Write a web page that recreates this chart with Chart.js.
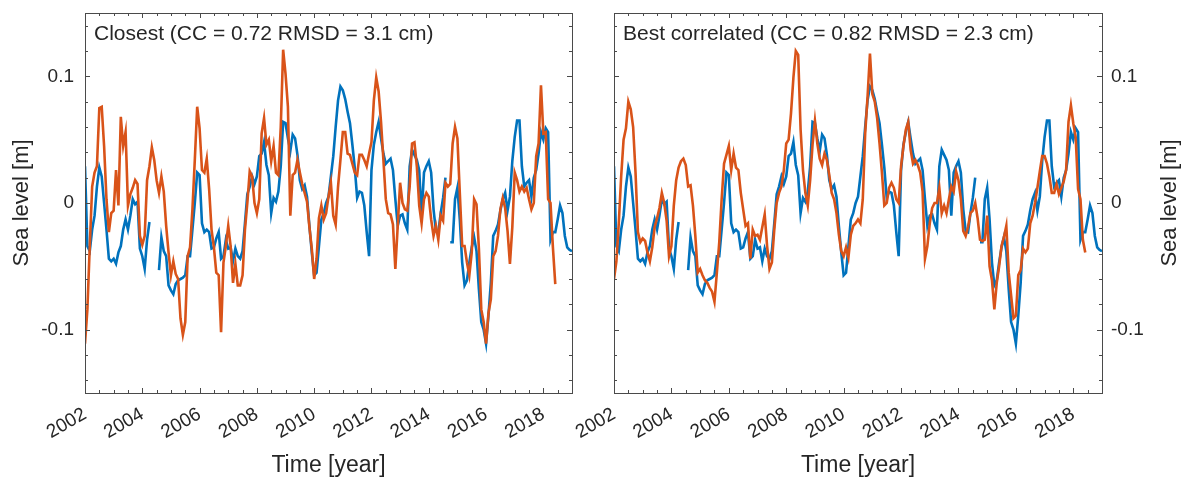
<!DOCTYPE html>
<html>
<head>
<meta charset="utf-8">
<title>Sea level comparison</title>
<script src="https://cdn.jsdelivr.net/npm/chart.js@4.4.1/dist/chart.umd.min.js"></script>
<style>
  html, body { margin: 0; padding: 0; background: #fff; }
  #wrap { position: relative; width: 1182px; height: 479px; overflow: hidden; }
  .panel { position: absolute; top: 0; height: 479px; }
  #panelLeft { left: 0; width: 600px; }
  #panelRight { left: 560px; width: 622px; }
</style>
</head>
<body>
<div id="wrap">
  <div class="panel" id="panelLeft"><canvas id="chartLeft"></canvas></div>
  <div class="panel" id="panelRight"><canvas id="chartRight"></canvas></div>
</div>
<script>
// monthly series, first value = Jan 2002
const START_YEAR = 2002;

// observed sea level [m] (null = missing month)
const observed = [
  0.029, -0.034, -0.038, -0.021, -0.010, 0.013, 0.028, 0.021, 0.000, -0.021, -0.044, -0.046,
  -0.044, -0.048, -0.039, -0.034, -0.021, -0.013, -0.021, -0.010, 0.003, -0.001, 0.001, -0.036,
  -0.042, -0.052, -0.029, -0.015, null, null, null, -0.053, -0.027, -0.038, -0.042, -0.065,
  -0.069, -0.072, -0.064, -0.061, -0.060, -0.059, -0.057, -0.042, -0.042, -0.021, 0.000, 0.024,
  0.022, -0.016, -0.023, -0.021, -0.023, -0.036, -0.035, -0.028, -0.023, -0.044, -0.042, -0.029,
  -0.036, -0.035, -0.046, -0.036, -0.042, -0.044, -0.038, -0.016, 0.007, 0.013, 0.021, 0.015,
  0.021, 0.037, 0.039, 0.048, 0.030, 0.022, -0.008, 0.004, 0.001, 0.009, 0.029, 0.064,
  0.063, 0.051, 0.041, 0.054, 0.051, 0.038, 0.018, 0.011, 0.014, 0.005, -0.018, -0.039,
  -0.057, -0.055, -0.034, -0.013, -0.008, 0.000, 0.005, 0.021, 0.037, 0.060, 0.081, 0.092,
  0.089, 0.082, 0.072, 0.063, 0.046, 0.028, 0.004, 0.009, 0.008, -0.002, -0.023, -0.042,
  0.026, 0.046, 0.056, 0.064, 0.051, 0.039, 0.031, 0.033, 0.035, 0.026, 0.003, -0.018,
  -0.010, -0.009, -0.016, -0.021, 0.029, 0.042, 0.038, 0.034, 0.026, -0.010, 0.024, 0.029,
  0.033, 0.024, -0.005, -0.022, -0.023, -0.008, 0.004, 0.020, null, -0.031, -0.031, 0.003,
  0.012, -0.013, -0.047, -0.065, -0.061, -0.047, -0.035, -0.027, -0.038, -0.068, -0.094, -0.100,
  -0.111, -0.089, -0.063, -0.026, -0.022, -0.017, -0.006, 0.003, 0.008, -0.006, 0.005, 0.033,
  0.052, 0.065, 0.065, 0.029, 0.013, 0.016, 0.018, 0.005, 0.020, 0.026, 0.039, 0.056,
  0.050, 0.059, 0.056, -0.029, -0.023, -0.023, -0.013, -0.002, -0.008, -0.026, -0.035, -0.037,
  -0.038
];

// closest model series [m]
const closest = [
  -0.111, -0.084, -0.034, 0.013, 0.024, 0.029, 0.075, 0.076, 0.045, 0.003, -0.023, -0.008,
  -0.006, 0.026, -0.002, 0.068, 0.045, 0.056, -0.002, 0.007, 0.012, 0.018, 0.015, -0.026,
  -0.033, -0.026, 0.018, 0.029, 0.044, 0.034, 0.018, 0.008, 0.021, 0.009, -0.018, -0.039,
  -0.057, -0.046, -0.056, -0.060, -0.091, -0.104, -0.094, -0.042, -0.035, -0.005, 0.034, 0.076,
  0.059, 0.026, 0.024, 0.035, 0.011, -0.021, -0.035, -0.055, -0.057, -0.102, -0.047, -0.034,
  -0.018, -0.034, -0.063, -0.048, -0.065, -0.065, -0.057, -0.021, 0.000, 0.025, 0.021, 0.000,
  -0.008, 0.003, 0.055, 0.067, 0.046, 0.050, 0.033, 0.045, 0.024, 0.022, 0.060, 0.121,
  0.102, 0.076, -0.010, 0.022, 0.024, 0.034, 0.024, 0.015, 0.008, 0.001, -0.019, -0.036,
  -0.060, -0.044, -0.012, -0.002, -0.013, -0.008, 0.005, 0.016, -0.010, -0.017, 0.013, 0.034,
  0.056, 0.056, 0.039, 0.038, 0.031, 0.024, 0.022, 0.038, 0.038, 0.034, 0.029, 0.039,
  0.048, 0.081, 0.099, 0.088, 0.064, 0.034, 0.003, -0.008, -0.009, -0.017, -0.052, -0.018,
  0.016, 0.000, -0.005, -0.006, 0.013, 0.047, 0.048, 0.029, -0.002, -0.016, 0.003, 0.008,
  0.005, -0.013, -0.026, -0.018, -0.029, -0.010, -0.014, 0.016, 0.013, 0.015, 0.047, 0.060,
  0.051, 0.008, -0.034, -0.034, -0.047, -0.057, -0.039, 0.003, -0.001, -0.036, -0.084, -0.094,
  -0.111, -0.087, -0.076, -0.042, -0.038, -0.026, -0.005, 0.004, -0.004, -0.022, -0.048, -0.019,
  0.024, 0.018, 0.009, 0.013, 0.009, 0.012, 0.003, -0.005, 0.000, 0.037, 0.047, 0.093,
  0.055, 0.056, 0.003, 0.000, -0.035, -0.064
];

// best correlated model series [m]
const bestCorrelated = [
  -0.060, -0.046, -0.016, 0.021, 0.050, 0.059, 0.080, 0.074, 0.060, 0.024, -0.023, -0.031,
  -0.028, -0.030, -0.039, -0.046, -0.035, -0.019, -0.012, -0.004, 0.008, 0.000, -0.014, -0.042,
  -0.034, -0.002, 0.018, 0.028, 0.033, 0.035, 0.030, 0.013, 0.014, -0.002, -0.026, -0.055,
  -0.052, -0.057, -0.061, -0.063, -0.067, -0.070, -0.078, -0.055, -0.031, 0.003, 0.031, 0.038,
  0.045, 0.026, 0.039, 0.028, 0.026, 0.008, -0.005, -0.018, -0.016, -0.044, -0.021, -0.026,
  -0.025, -0.029, -0.019, -0.009, -0.034, -0.052, -0.047, -0.021, 0.000, 0.008, 0.013, 0.026,
  0.047, 0.050, 0.071, 0.099, 0.120, 0.117, 0.058, 0.026, 0.008, -0.002, 0.018, 0.046,
  0.065, 0.047, 0.035, 0.030, 0.039, 0.034, 0.022, 0.008, 0.003, -0.008, -0.025, -0.038,
  -0.042, -0.035, -0.043, -0.025, -0.018, -0.016, -0.013, -0.016, 0.003, 0.055, 0.084, 0.118,
  0.086, 0.080, 0.067, 0.047, 0.024, -0.002, 0.000, 0.012, 0.016, 0.012, 0.003, 0.000,
  0.029, 0.045, 0.058, 0.064, 0.042, 0.031, 0.034, 0.030, 0.024, 0.009, -0.044, -0.034,
  -0.016, -0.004, 0.000, 0.000, 0.012, -0.008, -0.002, -0.008, 0.003, 0.013, 0.009, 0.025,
  0.018, 0.003, -0.022, -0.026, -0.019, -0.008, -0.006, 0.000, -0.012, -0.029, -0.030, -0.029,
  -0.010, -0.050, -0.061, -0.084, -0.063, -0.050, -0.034, -0.027, -0.018, -0.055, -0.073, -0.091,
  -0.089, -0.057, -0.053, -0.036, -0.039, -0.036, -0.016, -0.010, 0.000, 0.012, 0.025, 0.037,
  0.037, 0.031, 0.021, 0.008, 0.008, 0.015, 0.007, 0.012, 0.017, 0.026, 0.064, 0.077,
  0.063, 0.052, 0.011, 0.003, -0.029, -0.039
];

const YEAR_TICKS = [2002, 2004, 2006, 2008, 2010, 2012, 2014, 2016, 2018];
const LEVEL_TICKS = [-0.1, 0, 0.1];
const X_RANGE = [2002, 2019];
const Y_RANGE = [-0.15, 0.15];

const BLUE = "#0072BD";
const ORANGE = "#D95319";
const INK = "#262626";
const FONT = "'Liberation Sans', Arial, sans-serif";

const toPoints = (values) =>
  values.map((v, i) => ({ x: START_YEAR + i / 12, y: v }));

// box, inward tick marks (major + minor) and the caption inside the plot
const boxAndTicks = {
  id: "boxAndTicks",
  afterDraw(chart, args, opts) {
    const { ctx, chartArea: a } = chart;
    const xs = chart.scales.x;
    const ys = chart.scales.y;
    ctx.save();
    ctx.strokeStyle = "#4a4a4a";
    ctx.lineWidth = 1;
    ctx.strokeRect(a.left + 0.5, a.top + 0.5, a.right - a.left, a.bottom - a.top);

    ctx.beginPath();
    for (let v = X_RANGE[0]; v <= X_RANGE[1] + 1e-9; v += 0.5) {
      const px = Math.round(xs.getPixelForValue(v)) + 0.5;
      const len = YEAR_TICKS.includes(v) ? 5 : 3;
      ctx.moveTo(px, a.bottom);
      ctx.lineTo(px, a.bottom - len);
      ctx.moveTo(px, a.top);
      ctx.lineTo(px, a.top + len);
    }
    for (let k = -7; k <= 7; k++) {
      const v = k * 0.02;
      const py = Math.round(ys.getPixelForValue(v)) + 0.5;
      const len = k % 5 === 0 ? 5 : 3;
      ctx.moveTo(a.left, py);
      ctx.lineTo(a.left + len, py);
      ctx.moveTo(a.right, py);
      ctx.lineTo(a.right - len, py);
    }
    ctx.stroke();

    ctx.fillStyle = INK;
    ctx.font = `21px ${FONT}`;
    ctx.textAlign = "left";
    ctx.textBaseline = "alphabetic";
    ctx.fillText(opts.caption, a.left + 9, a.top + 27);

    if (opts.sideTitle) {
      ctx.translate(ys.right - 12, (a.top + a.bottom) / 2);
      ctx.rotate(-Math.PI / 2);
      ctx.textAlign = "center";
      ctx.textBaseline = "middle";
      ctx.font = `22px ${FONT}`;
      ctx.fillText(opts.sideTitle, 0, 0);
    }
    ctx.restore();
  },
};

const makeConfig = (model, side, caption) => ({
  type: "line",
  data: {
    datasets: [
      {
        label: "Observed",
        data: toPoints(observed),
        borderColor: BLUE,
        borderWidth: 2.6,
        pointRadius: 0,
        spanGaps: false,
        order: 2,
      },
      {
        label: "Model",
        data: toPoints(model),
        borderColor: ORANGE,
        borderWidth: 2.6,
        pointRadius: 0,
        order: 1,
      },
    ],
  },
  options: {
    responsive: true,
    maintainAspectRatio: false,
    animation: false,
    layout: {
      padding: side === "left" ? { top: 13, right: 28, left: 0, bottom: 0 } : { top: 13, right: 0, left: 54, bottom: 0 },
    },
    plugins: {
      legend: { display: false },
      tooltip: { enabled: false },
      boxAndTicks: {
        caption,
        sideTitle: side === "right" ? "Sea level [m]" : null,
      },
    },
    scales: {
      x: {
        type: "linear",
        min: X_RANGE[0],
        max: X_RANGE[1],
        grid: { display: false, drawTicks: false },
        border: { display: false },
        afterBuildTicks: (axis) => {
          axis.ticks = YEAR_TICKS.map((v) => ({ value: v }));
        },
        afterFit: (axis) => {
          axis.height = 86;
          axis.paddingLeft = 0;
          axis.paddingRight = 0;
        },
        ticks: {
          autoSkip: false,
          minRotation: 30,
          maxRotation: 30,
          padding: 10,
          color: INK,
          font: { family: FONT, size: 19 },
          callback: (v) => String(v),
        },
        title: {
          display: true,
          text: "Time [year]",
          color: INK,
          font: { family: FONT, size: 23 },
          padding: { top: 0, bottom: 0 },
        },
      },
      y: {
        position: side,
        min: Y_RANGE[0],
        max: Y_RANGE[1],
        grid: { display: false, drawTicks: false },
        border: { display: false },
        afterBuildTicks: (axis) => {
          axis.ticks = LEVEL_TICKS.map((v) => ({ value: v }));
        },
        afterFit: (axis) => {
          axis.width = side === "left" ? 85 : 80;
          axis.paddingTop = 0;
          axis.paddingBottom = 0;
        },
        ticks: {
          padding: side === "left" ? 11 : 9,
          color: INK,
          font: { family: FONT, size: 19 },
          callback: (v) => (v === 0 ? "0" : v.toFixed(1)),
        },
        title: {
          display: side === "left",
          text: "Sea level [m]",
          color: INK,
          font: { family: FONT, size: 22 },
          padding: { top: 9, bottom: 0 },
        },
      },
    },
  },
  plugins: [boxAndTicks],
});

new Chart(document.getElementById("chartLeft"),
  makeConfig(closest, "left", "Closest (CC = 0.72 RMSD = 3.1 cm)"));
new Chart(document.getElementById("chartRight"),
  makeConfig(bestCorrelated, "right", "Best correlated (CC = 0.82 RMSD = 2.3 cm)"));
</script>
</body>
</html>
